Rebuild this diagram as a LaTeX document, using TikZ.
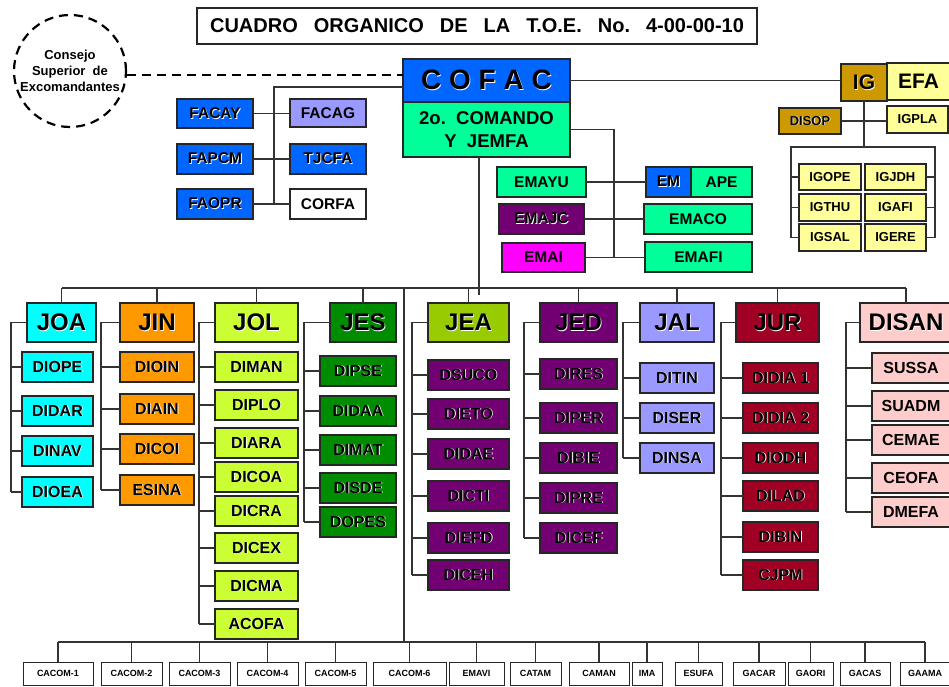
\documentclass[tikz,border=0pt]{standalone}
\usepackage{fontspec}
\setmainfont{Liberation Sans}

\definecolor{cBlue}{RGB}{0,102,255}
\definecolor{cMint}{RGB}{0,255,153}
\definecolor{cPurple}{RGB}{115,0,115}
\definecolor{cMagenta}{RGB}{255,0,255}
\definecolor{cGold}{RGB}{204,153,0}
\definecolor{cYellow}{RGB}{255,255,153}
\definecolor{cLav}{RGB}{153,153,255}
\definecolor{cCyan}{RGB}{0,255,255}
\definecolor{cOrange}{RGB}{255,153,0}
\definecolor{cLime}{RGB}{204,255,51}
\definecolor{cGreen}{RGB}{0,140,0}
\definecolor{cOlive}{RGB}{153,204,0}
\definecolor{cCrimson}{RGB}{160,0,35}
\definecolor{cPink}{RGB}{255,204,204}

\tikzset{
  bx/.style={draw=black!85,line width=1.3pt,anchor=north west,inner sep=0pt,outer sep=0pt,align=center,font=\bfseries\fontsize{15.5}{18}\selectfont},
  sub/.style={bx,minimum height=30,font=\bfseries\fontsize{16}{18}\selectfont},
  hdr/.style={bx,minimum height=39,font=\bfseries\fontsize{24}{26}\selectfont},
  small/.style={bx,font=\bfseries\fontsize{13}{15}\selectfont},
  low/.style={bx,fill=white,minimum height=23,line width=1pt,font=\bfseries\fontsize{9}{10}\selectfont},
  ln/.style={draw=black!80,line width=1.2pt},
  dsh/.style={draw=black,line width=2.2pt,dash pattern=on 9pt off 6pt},
}
% white drop shadow behind dark letters
\newcommand\shd[1]{\makebox[0pt][l]{\hspace{0.8pt}\raisebox{-0.8pt}{\color{white}#1}}#1}

\begin{document}
\begin{tikzpicture}[x=1pt,y=-1pt]
\useasboundingbox (0,0) rectangle (949,687);

% title and top
\node[bx,minimum width=560,minimum height=36,font=\bfseries\fontsize{20}{22}\selectfont] (title) at (197,8)
  {CUADRO\hspace{.8em}ORGANICO\hspace{.8em}DE\hspace{.8em}LA\hspace{.8em}T.O.E.\hspace{.8em}No.\hspace{.8em}4-00-00-10};
\node[circle,dsh,minimum size=112,inner sep=0pt,align=center,font=\bfseries\fontsize{13}{16}\selectfont] (consejo) at (70,71)
  {Consejo\\Superior\ \ de\\Excomandantes};
\node[bx,fill=cBlue,minimum width=167,minimum height=43,font=\bfseries\fontsize{28}{30}\selectfont] (COFAC) at (403,59) {\shd{C O F A C}};
\node[bx,fill=cMint,minimum width=167,minimum height=55,font=\bfseries\fontsize{18.5}{23}\selectfont] (COMANDO) at (403,102) {2o.\ \ COMANDO\\Y\ \ JEMFA};
\draw[dsh] ([yshift=-4pt]consejo.east) -- ([yshift=-4pt]consejo.east -| COFAC.west);

% IG / EFA
\node[bx,fill=cGold,minimum width=46,minimum height=37,font=\bfseries\fontsize{21}{23}\selectfont] (IG) at (841,64) {\shd{IG}};
\node[bx,fill=cYellow,minimum width=63,minimum height=37,font=\bfseries\fontsize{21}{23}\selectfont] (EFA) at (887,63) {EFA};
\draw[ln] (COFAC.east) -- (COFAC.east -| IG.west);
\node[small,fill=cGold,minimum width=62,minimum height=26] (DISOP) at (779,108) {\shd{DISOP}};
\node[small,fill=cYellow,minimum width=61,minimum height=27] (IGPLA) at (887,106) {IGPLA};
\coordinate (igL) at (791,147);
\coordinate (igR) at (935,147);
\draw[ln] (IG.south) -- (IG.south |- igL);
\draw[ln] (DISOP.east) -- (DISOP.east -| IGPLA.west);
\foreach \a/\b/\y/\h in {IGOPE/IGJDH/164/26,IGTHU/IGAFI/194/27,IGSAL/IGERE/224/27}{
  \node[small,fill=cYellow,minimum width=62,minimum height=\h] (\a) at (799,\y) {\a};
  \node[small,fill=cYellow,minimum width=61,minimum height=\h] (\b) at (865,\y) {\b};
  \draw[ln] (\a.west) -- (\a.west -| igL);
  \draw[ln] (\b.east) -- (\b.east -| igR);
}
\draw[ln] (IGSAL.west -| igL) -- (igL) -- (igR) -- (IGERE.east -| igR);

% FA boxes
\node[bx,fill=cBlue,minimum width=76,minimum height=29] (FACAY) at (177,99) {\shd{FACAY}};
\node[bx,fill=cBlue,minimum width=76,minimum height=30] (FAPCM) at (177,144) {\shd{FAPCM}};
\node[bx,fill=cBlue,minimum width=76,minimum height=30] (FAOPR) at (177,189) {\shd{FAOPR}};
\node[bx,fill=cLav,minimum width=76,minimum height=28] (FACAG) at (290,99) {FACAG};
\node[bx,fill=cBlue,minimum width=76,minimum height=30] (TJCFA) at (290,144) {\shd{TJCFA}};
\node[bx,fill=white,minimum width=76,minimum height=30] (CORFA) at (290,189) {CORFA};
\coordinate (facT) at (274,87);
\draw[ln] (facT -| COFAC.west) -- (facT) -- (facT |- FAOPR.east);
\draw[ln] (FACAY.east) -- (FACAY.east -| FACAG.west);
\draw[ln] (FAPCM.east) -- (FAPCM.east -| TJCFA.west);
\draw[ln] (FAOPR.east) -- (FAOPR.east -| CORFA.west);

% EM boxes
\node[bx,fill=cMint,minimum width=89,minimum height=30] (EMAYU) at (497,167) {EMAYU};
\node[bx,fill=cPurple,minimum width=85,minimum height=30] (EMAJC) at (499,204) {\shd{EMAJC}};
\node[bx,fill=cMagenta,minimum width=83,minimum height=29] (EMAI) at (502,243) {EMAI};
\node[bx,fill=cBlue,minimum width=45,minimum height=30] (EM) at (646,167) {\shd{EM}};
\node[bx,fill=cMint,minimum width=61,minimum height=30] (APE) at (691,167) {APE};
\node[bx,fill=cMint,minimum width=108,minimum height=30] (EMACO) at (644,204) {EMACO};
\node[bx,fill=cMint,minimum width=107,minimum height=30] (EMAFI) at (645,242) {EMAFI};
\coordinate (emX) at (614,0);
\draw[ln] (COMANDO.east) -- (COMANDO.east -| emX) -- (EMAI.east -| emX);
\draw[ln] (EMAYU.east) -- (EMAYU.east -| EM.west);
\draw[ln] (EMAJC.east) -- (EMAJC.east -| EMACO.west);
\draw[ln] (EMAI.east) -- (EMAI.east -| EMAFI.west);

% main bus
\coordinate (bus) at (404,288);
\coordinate (trunk) at (479,288);
\coordinate (bbus) at (404,642);
\draw[ln] (trunk |- COMANDO.south) -- ([yshift=-7pt]trunk);
\foreach \n/\x/\w/\c in {JOA/27/69/cCyan,JIN/120/74/cOrange,JOL/215/83/cLime,JES/330/66/cGreen,
    JEA/428/81/cOlive,JED/540/77/cPurple,JAL/640/74/cLav,JUR/736/83/cCrimson,DISAN/860/92/cPink}{
  \node[hdr,fill=\c,minimum width=\w] (\n) at (\x,303) {\shd{\n}};
  \draw[ln] (\n.north) -- (\n.north |- bus);
}
\draw[ln] (JOA.north |- bus) -- (DISAN.north |- bus);
\draw[ln] (bus) -- (bbus);

% JOA
\coordinate (joaX) at (11,0);
\foreach \n/\y in {DIOPE/352,DIDAR/396,DINAV/436,DIOEA/477}{
  \node[sub,fill=cCyan,minimum width=71] (\n) at (22,\y) {\shd{\n}};
  \draw[ln] (\n.west) -- (\n.west -| joaX);
}
\draw[ln] (JOA.west) -| (DIOEA.west -| joaX);

% JIN
\coordinate (jinX) at (101,0);
\foreach \n/\y in {DIOIN/352,DIAIN/394,DICOI/434,ESINA/475}{
  \node[sub,fill=cOrange,minimum width=74] (\n) at (120,\y) {\shd{\n}};
  \draw[ln] (\n.west) -- (\n.west -| jinX);
}
\draw[ln] (JIN.west) -| (ESINA.west -| jinX);

% JOL
\coordinate (jolX) at (199,0);
\foreach \n/\y in {DIMAN/352,DIPLO/390,DIARA/428,DICOA/462,DICRA/496,DICEX/533,DICMA/571,ACOFA/609}{
  \node[sub,fill=cLime,minimum width=83] (\n) at (215,\y) {\shd{\n}};
  \draw[ln] (\n.west) -- (\n.west -| jolX);
}
\draw[ln] (JOL.west) -| (ACOFA.west -| jolX);

% JES
\coordinate (jesX) at (304,0);
\foreach \n/\y in {DIPSE/356,DIDAA/396,DIMAT/435,DISDE/473,DOPES/507}{
  \node[sub,fill=cGreen,minimum width=76] (\n) at (320,\y) {\shd{\n}};
  \draw[ln] (\n.west) -- (\n.west -| jesX);
}
\draw[ln] (JES.west) -| (DOPES.west -| jesX);

% JEA
\coordinate (jeaX) at (412,0);
\foreach \n/\y in {DSUCO/360,DIETO/399,DIDAE/439,DICTI/481,DIEFD/523,DICEH/560}{
  \node[sub,fill=cPurple,minimum width=81] (\n) at (428,\y) {\shd{\n}};
  \draw[ln] (\n.west) -- (\n.west -| jeaX);
}
\draw[ln] (JEA.west) -| (DICEH.west -| jeaX);

% JED
\coordinate (jedX) at (524,0);
\foreach \n/\y in {DIRES/359,DIPER/403,DIBIE/443,DIPRE/483,DICEF/523}{
  \node[sub,fill=cPurple,minimum width=77] (\n) at (540,\y) {\shd{\n}};
  \draw[ln] (\n.west) -- (\n.west -| jedX);
}
\draw[ln] (JED.west) -| (DICEF.west -| jedX);

% JAL
\coordinate (jalX) at (623,0);
\foreach \n/\y in {DITIN/363,DISER/403,DINSA/443}{
  \node[sub,fill=cLav,minimum width=74] (\n) at (640,\y) {\shd{\n}};
  \draw[ln] (\n.west) -- (\n.west -| jalX);
}
\draw[ln] (JAL.west) -| (DINSA.west -| jalX);

% JUR
\coordinate (jurX) at (721,0);
\foreach \n/\t/\y in {DIDIA1/DIDIA 1/363,DIDIA2/DIDIA 2/403,DIODH/DIODH/443,DILAD/DILAD/481,DIBIN/DIBIN/522,CJPM/CJPM/560}{
  \node[sub,fill=cCrimson,minimum width=75] (\n) at (743,\y) {\shd{\t}};
  \draw[ln] (\n.west) -- (\n.west -| jurX);
}
\draw[ln] (JUR.west) -| (CJPM.west -| jurX);

% DISAN
\coordinate (disX) at (846,0);
\foreach \n/\y in {SUSSA/353,SUADM/391,CEMAE/425,CEOFA/463,DMEFA/497}{
  \node[sub,fill=cPink,minimum width=78] (\n) at (872,\y) {\n};
  \draw[ln] (\n.west) -- (\n.west -| disX);
}
\draw[ln] (DISAN.west) -| (DMEFA.west -| disX);

% bottom row
\foreach \n/\t/\x/\w in {c1/CACOM-1/23/70,c2/CACOM-2/101/61,c3/CACOM-3/169/61,c4/CACOM-4/237/61,
    c5/CACOM-5/305/61,c6/CACOM-6/373/73,c7/EMAVI/449/55,c8/CATAM/510/51,c9/CAMAN/569/60,
    c10/IMA/632/30,c11/ESUFA/675/47,c12/GACAR/733/52,c13/GAORI/788/45,c14/GACAS/840/50,c15/GAAMA/900/50}{
  \node[low,minimum width=\w] (\n) at (\x,662) {\t};
  \draw[ln] (\n.north) -- (\n.north |- bbus);
}
\draw[ln] (c1.north |- bbus) -- (c15.north |- bbus);
\end{tikzpicture}
\end{document}
